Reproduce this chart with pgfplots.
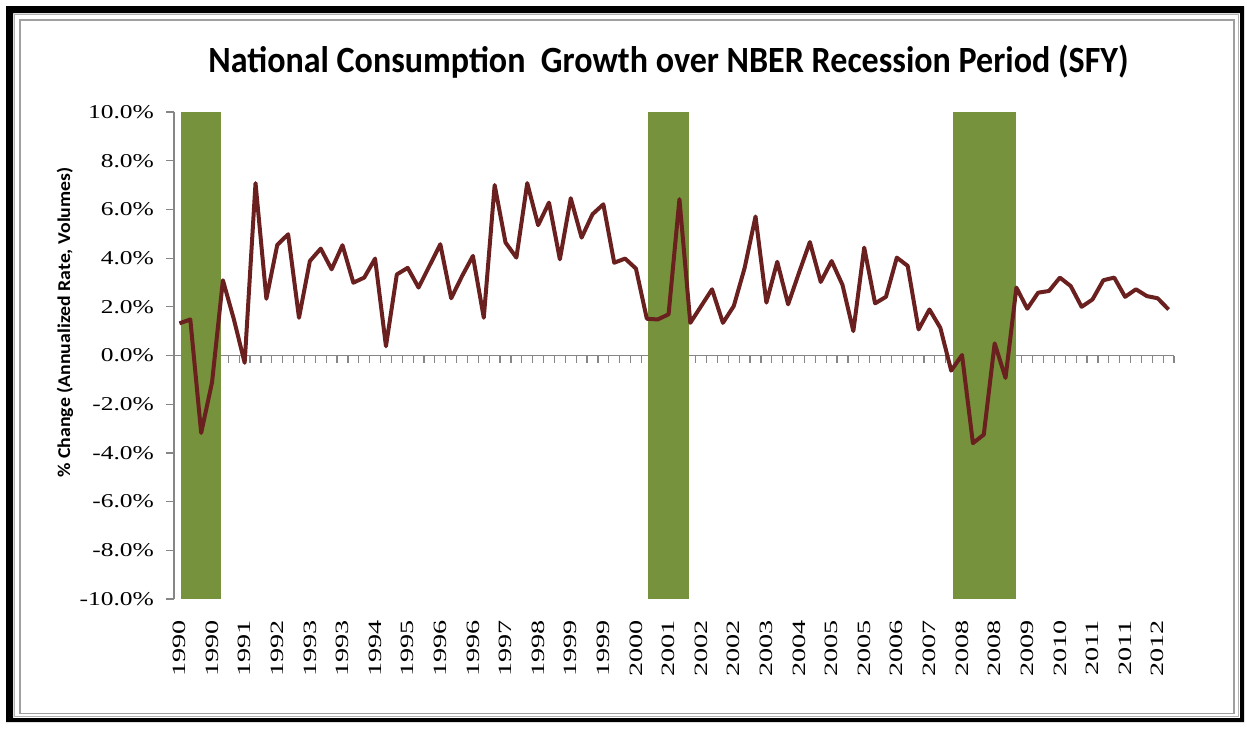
\documentclass[border=0pt]{standalone}
\usepackage{fontspec}
\usepackage{pgfplots}
\pgfplotsset{compat=1.18}
\setmainfont{Liberation Serif}
\newfontfamily\tickfont{Liberation Serif}[FakeStretch=1.3]
\newfontfamily\yearfont{Liberation Serif}[FakeStretch=1.5]
\newfontfamily\calibri{Carlito}
\newfontfamily\titlefont{Carlito}[FakeStretch=0.92]
\newfontfamily\labelfont{Carlito}[FakeStretch=1.1]
\definecolor{recess}{HTML}{76923C}
\definecolor{cons}{HTML}{6B2020}
\definecolor{axgray}{HTML}{868686}

% quarterly growth, 1990Q1 .. 2012Q4 (index 0..91)
\pgfplotstableread{
idx val
0 1.32
1 1.48
2 -3.18
3 -1.10
4 3.09
5 1.50
6 -0.30
7 7.08
8 2.33
9 4.54
10 4.98
11 1.55
12 3.88
13 4.39
14 3.54
15 4.53
16 2.99
17 3.20
18 3.98
19 0.38
20 3.33
21 3.60
22 2.79
23 3.68
24 4.57
25 2.35
26 3.26
27 4.09
28 1.55
29 7.00
30 4.64
31 4.02
32 7.08
33 5.35
34 6.28
35 3.95
36 6.46
37 4.84
38 5.80
39 6.21
40 3.81
41 3.98
42 3.57
43 1.51
44 1.48
45 1.69
46 6.42
47 1.34
48 2.03
49 2.72
50 1.34
51 2.03
52 3.60
53 5.71
54 2.17
55 3.85
56 2.10
57 3.40
58 4.66
59 3.02
60 3.88
61 2.90
62 1.00
63 4.43
64 2.14
65 2.41
66 4.02
67 3.68
68 1.07
69 1.89
70 1.14
71 -0.62
72 0.02
73 -3.60
74 -3.25
75 0.50
76 -0.92
77 2.79
78 1.92
79 2.58
80 2.65
81 3.20
82 2.85
83 2.00
84 2.30
85 3.09
86 3.20
87 2.41
88 2.72
89 2.44
90 2.35
91 1.89
}\consdata

\begin{document}
\begin{tikzpicture}
\useasboundingbox (0,0) rectangle (623.5pt,-364pt);
% frame
\fill[black,even odd rule] (3pt,-3pt) rectangle (622pt,-361pt) (6.5pt,-6.5pt) rectangle (620pt,-359pt);
\draw[gray!60,line width=0.5pt] (7.3pt,-7.3pt) rectangle (619pt,-358.4pt);
\draw[gray!75,line width=0.8pt] (10pt,-10pt) rectangle (617pt,-356.8pt);

% zero line with category ticks
\begin{axis}[at={(87pt,-177.75pt)},anchor=south west,
  width=500pt,height=121.75pt,scale only axis,
  xmin=-0.5,xmax=91.5,ymin=0,ymax=1,
  axis x line*=bottom,hide y axis,
  x axis line style={axgray,line width=0.6pt,-},
  xtick={-0.5,0.5,...,91.5},xticklabels={},
  xtick align=outside,major tick length=3.5pt,
  xtick style={axgray,line width=0.6pt}]
\end{axis}

\begin{axis}[at={(87pt,-299.5pt)},anchor=south west,
  width=500pt,height=243.5pt,scale only axis,
  xmin=-0.5,xmax=91.5,ymin=-10,ymax=10,
  axis y line*=left,axis x line*=bottom,
  x axis line style={draw=none},
  y axis line style={axgray,line width=0.6pt,-},
  ytick={-10,-8,...,10},
  yticklabels={-10.0\%,-8.0\%,-6.0\%,-4.0\%,-2.0\%,0.0\%,2.0\%,4.0\%,6.0\%,8.0\%,10.0\%},
  ytick align=outside,major tick length=4pt,
  ytick style={axgray,line width=0.6pt},
  yticklabel style={font=\tickfont\fontsize{9.8}{10}\selectfont,xshift=-2.5pt},
  xtick={0,3,...,90},
  xticklabels={1990,1990,1991,1992,1993,1993,1994,1995,1996,1996,1997,1998,1999,1999,2000,2001,2002,2002,2003,2004,2005,2005,2006,2007,2008,2008,2009,2010,2011,2011,2012},
  xtick style={draw=none},
  xticklabel shift=7pt,
  xticklabel style={rotate=90,anchor=east,font=\yearfont\fontsize{9.4}{10}\selectfont}]
\addplot[fill=recess,draw=none] coordinates {(0.12,-10)(0.12,10)(3.85,10)(3.85,-10)} -- cycle;
\addplot[fill=recess,draw=none] coordinates {(43.13,-10)(43.13,10)(46.9,10)(46.9,-10)} -- cycle;
\addplot[fill=recess,draw=none] coordinates {(71.14,-10)(71.14,10)(76.93,10)(76.93,-10)} -- cycle;
\addplot[cons,line width=2pt,line join=round,mark=none] table[x=idx,y=val] {\consdata};
\end{axis}

\node[font=\titlefont\bfseries\fontsize{18.5}{20}\selectfont,anchor=base] at (334.25pt,-36pt)
  {National Consumption\ \ Growth over NBER Recession Period (SFY)};
\node[rotate=90,font=\labelfont\bfseries\fontsize{9}{10}\selectfont] at (32.5pt,-161.25pt)
  {\% Change (Annualized Rate, Volumes)};
\end{tikzpicture}
\end{document}
